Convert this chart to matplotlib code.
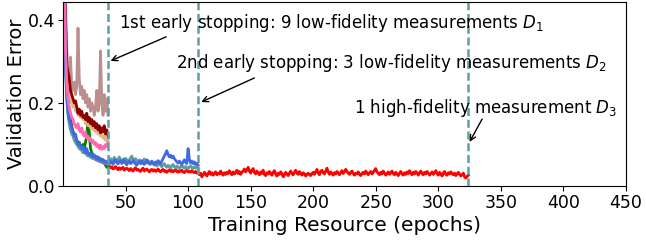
import numpy as np
import matplotlib
matplotlib.use("Agg")
import matplotlib.pyplot as plt

# ---- data ----
red_vals = [
    0.52, 0.36, 0.26, 0.21, 0.18, 0.16, 0.145, 0.13, 0.125, 0.115, 0.11, 0.10, 0.105, 0.095, 0.09, 0.092, 0.085, 0.08,
    0.083, 0.078, 0.075, 0.072, 0.076, 0.07, 0.066, 0.068, 0.063, 0.065, 0.06, 0.062, 0.058, 0.06, 0.055, 0.057, 0.052, 0.05,
    0.048, 0.044, 0.046, 0.041, 0.043, 0.047, 0.042, 0.039, 0.044, 0.040, 0.042, 0.045, 0.038, 0.041, 0.043, 0.040, 0.037, 0.042,
    0.039, 0.036, 0.041, 0.044, 0.038, 0.040, 0.037, 0.035, 0.040, 0.043, 0.036, 0.039, 0.041, 0.037, 0.034, 0.038, 0.040, 0.036,
    0.039, 0.035, 0.037, 0.041, 0.036, 0.034, 0.038, 0.040, 0.035, 0.037, 0.033, 0.036, 0.039, 0.035, 0.038, 0.034, 0.036, 0.040,
    0.035, 0.033, 0.037, 0.035, 0.038, 0.034, 0.032, 0.036, 0.038, 0.034, 0.035, 0.033, 0.037, 0.034, 0.032, 0.035, 0.031, 0.033,
    0.027, 0.031, 0.022, 0.026, 0.033, 0.029, 0.024, 0.030, 0.035, 0.028, 0.032, 0.026, 0.030, 0.034, 0.027, 0.031, 0.029, 0.036,
    0.030, 0.026, 0.032, 0.028, 0.033, 0.030, 0.037, 0.031, 0.027, 0.034, 0.029, 0.032, 0.038, 0.030, 0.035, 0.028, 0.033, 0.036,
    0.041, 0.034, 0.039, 0.045, 0.036, 0.031, 0.038, 0.042, 0.033, 0.029, 0.036, 0.031, 0.027, 0.034, 0.030, 0.038, 0.028, 0.025,
    0.032, 0.029, 0.035, 0.030, 0.026, 0.033, 0.037, 0.029, 0.024, 0.031, 0.028, 0.034, 0.030, 0.022, 0.027, 0.033, 0.029, 0.025,
    0.031, 0.036, 0.030, 0.027, 0.033, 0.038, 0.031, 0.028, 0.035, 0.030, 0.026, 0.032, 0.029, 0.024, 0.028, 0.031, 0.027, 0.025,
    0.030, 0.033, 0.028, 0.034, 0.040, 0.031, 0.027, 0.035, 0.038, 0.032, 0.029, 0.036, 0.043, 0.033, 0.028, 0.034, 0.030, 0.026,
    0.032, 0.029, 0.035, 0.031, 0.027, 0.033, 0.037, 0.030, 0.034, 0.040, 0.035, 0.031, 0.028, 0.033, 0.036, 0.030, 0.026, 0.031,
    0.029, 0.034, 0.028, 0.025, 0.030, 0.033, 0.029, 0.036, 0.031, 0.027, 0.032, 0.035, 0.029, 0.033, 0.038, 0.042, 0.034, 0.030,
    0.027, 0.033, 0.029, 0.036, 0.031, 0.026, 0.030, 0.034, 0.028, 0.032, 0.036, 0.030, 0.027, 0.033, 0.029, 0.025, 0.031, 0.035,
    0.029, 0.026, 0.032, 0.028, 0.034, 0.030, 0.037, 0.031, 0.027, 0.033, 0.029, 0.035, 0.031, 0.026, 0.032, 0.036, 0.030, 0.027,
    0.033, 0.029, 0.035, 0.031, 0.026, 0.030, 0.034, 0.028, 0.032, 0.037, 0.030, 0.026, 0.033, 0.029, 0.024, 0.031, 0.035, 0.028,
    0.026, 0.032, 0.029, 0.034, 0.030, 0.027, 0.031, 0.025, 0.029, 0.033, 0.028, 0.024, 0.027, 0.031, 0.022, 0.019, 0.023, 0.026,
]

blue_vals = [
    0.48, 0.30, 0.22, 0.18, 0.16, 0.15, 0.14, 0.13, 0.12, 0.125, 0.11, 0.10, 0.105, 0.095, 0.09, 0.095, 0.085, 0.08,
    0.09, 0.078, 0.075, 0.08, 0.072, 0.07, 0.075, 0.068, 0.065, 0.07, 0.062, 0.066, 0.06, 0.064, 0.058, 0.06, 0.056, 0.058,
    0.062, 0.055, 0.058, 0.052, 0.060, 0.064, 0.056, 0.053, 0.059, 0.061, 0.054, 0.057, 0.063, 0.055, 0.051, 0.058, 0.060, 0.054,
    0.056, 0.062, 0.057, 0.053, 0.050, 0.056, 0.059, 0.054, 0.061, 0.055, 0.052, 0.057, 0.063, 0.058, 0.053, 0.056, 0.060, 0.055,
    0.052, 0.058, 0.054, 0.061, 0.057, 0.053, 0.060, 0.066, 0.072, 0.078, 0.085, 0.076, 0.070, 0.074, 0.068, 0.072, 0.066, 0.062,
    0.058, 0.055, 0.060, 0.056, 0.052, 0.058, 0.063, 0.057, 0.054, 0.090, 0.065, 0.056, 0.060, 0.054, 0.058, 0.052, 0.055, 0.050,
]

cadet_vals = [
    0.47, 0.29, 0.21, 0.17, 0.15, 0.135, 0.125, 0.12, 0.11, 0.105, 0.10, 0.095, 0.09, 0.088, 0.085, 0.08, 0.083, 0.078,
    0.075, 0.072, 0.076, 0.07, 0.068, 0.071, 0.066, 0.064, 0.068, 0.062, 0.065, 0.06, 0.063, 0.058, 0.061, 0.056, 0.059, 0.055,
    0.060, 0.066, 0.058, 0.063, 0.069, 0.061, 0.057, 0.064, 0.070, 0.062, 0.058, 0.065, 0.060, 0.067, 0.063, 0.057, 0.062, 0.068,
    0.072, 0.064, 0.059, 0.066, 0.061, 0.056, 0.063, 0.059, 0.054, 0.060, 0.065, 0.058, 0.055, 0.061, 0.057, 0.052, 0.058, 0.054,
    0.050, 0.055, 0.048, 0.052, 0.057, 0.050, 0.046, 0.051, 0.054, 0.048, 0.045, 0.050, 0.047, 0.043, 0.049, 0.052, 0.046, 0.044,
    0.048, 0.045, 0.042, 0.047, 0.050, 0.045, 0.043, 0.047, 0.044, 0.041, 0.046, 0.049, 0.044, 0.042, 0.046, 0.043, 0.045, 0.041,
]

green_vals = [
    0.46, 0.30, 0.24, 0.20, 0.17, 0.155, 0.14, 0.13, 0.125, 0.115, 0.11, 0.105, 0.10, 0.098, 0.095, 0.10, 0.09, 0.105,
    0.12, 0.16, 0.13, 0.09, 0.08, 0.075, 0.07, 0.072, 0.066, 0.07, 0.062, 0.065, 0.058, 0.06, 0.055, 0.05, 0.045, 0.048,
]

darkred_vals = [
    0.52, 0.40, 0.29, 0.275, 0.26, 0.23, 0.22, 0.21, 0.20, 0.205, 0.19, 0.175, 0.185, 0.17, 0.18, 0.165, 0.17, 0.16,
    0.175, 0.155, 0.165, 0.15, 0.16, 0.145, 0.155, 0.14, 0.15, 0.135, 0.145, 0.128, 0.14, 0.13, 0.145, 0.125, 0.135, 0.12,
]

rosy_vals = [
    0.55, 0.45, 0.33, 0.27, 0.25, 0.31, 0.24, 0.23, 0.25, 0.22, 0.24, 0.38, 0.26, 0.22, 0.24, 0.21, 0.23, 0.20,
    0.22, 0.19, 0.21, 0.18, 0.20, 0.19, 0.17, 0.19, 0.23, 0.18, 0.20, 0.325, 0.20, 0.17, 0.22, 0.18, 0.21, 0.17,
]

tan_vals = [
    0.53, 0.42, 0.30, 0.25, 0.22, 0.21, 0.20, 0.19, 0.195, 0.18, 0.185, 0.17, 0.175, 0.165, 0.17, 0.16, 0.165, 0.15,
    0.155, 0.145, 0.15, 0.14, 0.145, 0.135, 0.14, 0.13, 0.135, 0.125, 0.13, 0.12, 0.125, 0.115, 0.12, 0.11, 0.115, 0.105,
]

pink_vals = [
    0.50, 0.33, 0.25, 0.21, 0.19, 0.175, 0.165, 0.16, 0.15, 0.145, 0.14, 0.15, 0.135, 0.13, 0.14, 0.125, 0.12, 0.13,
    0.115, 0.12, 0.11, 0.115, 0.105, 0.11, 0.10, 0.105, 0.095, 0.10, 0.09, 0.098, 0.088, 0.095, 0.09, 0.10, 0.095, 0.105,
]

purple_vals = [
    0.50, 0.31, 0.22, 0.18, 0.16, 0.145, 0.135, 0.125, 0.12, 0.11, 0.105, 0.10, 0.095, 0.09, 0.092, 0.085, 0.082, 0.08,
    0.078, 0.074, 0.072, 0.07, 0.068, 0.066, 0.067, 0.063, 0.062, 0.06, 0.061, 0.058, 0.057, 0.056, 0.055, 0.054, 0.053, 0.052,
]

stops = [36, 108, 324]
xticks = [50, 100, 150, 200, 250, 300, 350, 400, 450]
yticks = [0.0, 0.2, 0.4]

annotations = [
    ("1st early stopping: 9 low-fidelity measurements $D_1$", (45, 0.392), (82.5, 0.359), (38, 0.301)),
    ("2nd early stopping: 3 low-fidelity measurements $D_2$", (90, 0.296), (153, 0.260), (110.5, 0.202)),
    ("1 high-fidelity measurement $D_3$", (233, 0.188), (335, 0.161), (325, 0.106)),
]

series = [
    (red_vals, "red"),
    (green_vals, "green"),
    (tan_vals, "burlywood"),
    (rosy_vals, "rosybrown"),
    (darkred_vals, "darkred"),
    (purple_vals, "mediumpurple"),
    (cadet_vals, "cadetblue"),
    (blue_vals, "royalblue"),
    (pink_vals, "hotpink"),
]

fig = plt.figure(figsize=(6.46, 2.40), dpi=100)
ax = fig.add_axes([0.0975, 0.225, 0.8715, 0.767])

for vals, col in series:
    x = np.arange(1, len(vals) + 1)
    ax.plot(x, vals, color=col, lw=2.0)

for s in stops:
    ax.axvline(s, color="cadetblue", ls=(0, (3.2, 1.5)), lw=1.8)

ax.set_xlim(0, 450)
ax.set_ylim(0, 0.443)
ax.set_xticks(xticks)
ax.set_yticks(yticks)
ax.set_yticklabels(["0.0", "0.2", "0.4"])
ax.tick_params(labelsize=12.5, length=3.5, pad=2)
ax.set_xlabel("Training Resource (epochs)", fontsize=14.5, labelpad=3)
ax.set_ylabel("Validation Error", fontsize=14, labelpad=1.5)

ann_fs = 12
for txt, tpos, tail, head in annotations:
    ax.text(tpos[0], tpos[1], txt, fontsize=ann_fs, va="center", ha="left")
    ax.annotate("", xy=head, xytext=tail,
                arrowprops=dict(arrowstyle="->", color="black", lw=1,
                                shrinkA=0, shrinkB=0))

fig.savefig("out.png", dpi=100)
